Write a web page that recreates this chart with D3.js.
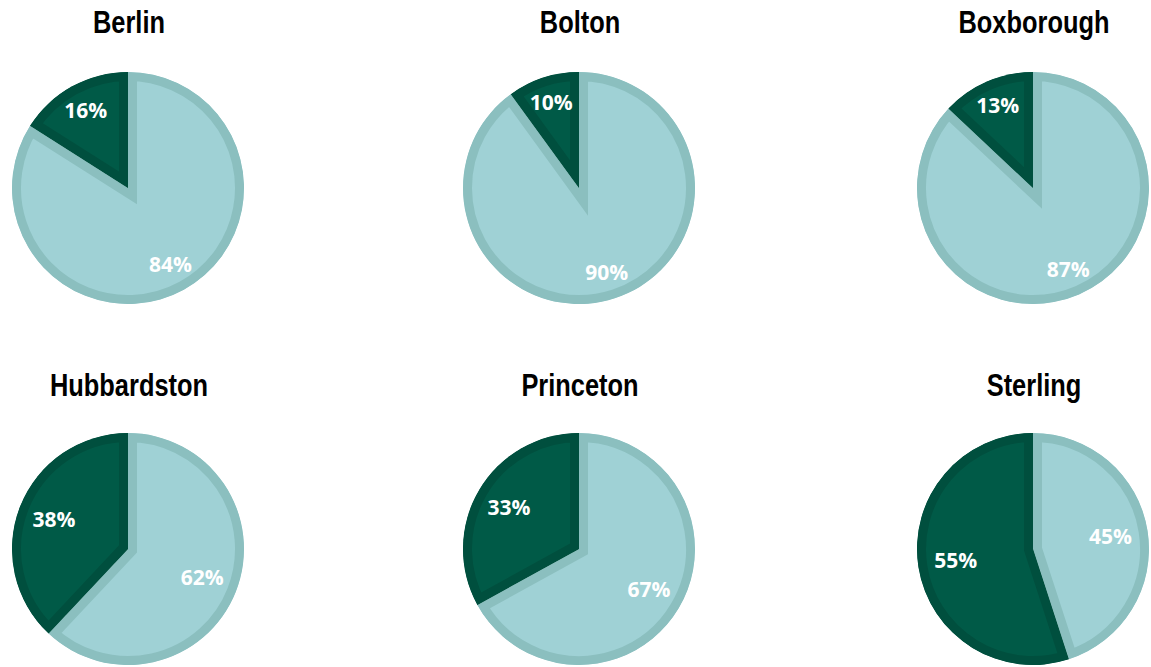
<!DOCTYPE html>
<html>
<head>
<meta charset="utf-8">
<script src="https://cdn.jsdelivr.net/npm/d3@7"></script>
<style>
  html, body { margin: 0; padding: 0; background: #ffffff; }
  svg { display: block; }
</style>
</head>
<body>
<svg id="chart" width="1151" height="667"></svg>
<script>
// ---- data ----
const towns = ["Berlin", "Bolton", "Boxborough", "Hubbardston", "Princeton", "Sterling"];
const lightShare = [84, 90, 87, 62, 67, 45];
const darkShare  = [16, 10, 13, 38, 33, 55];
const seriesNames = ["light", "dark"];

// ---- layout ----
const colX = [128, 579, 1033];
const rowY = [188, 549];
const titleY = [33, 396];
const radius = 116;
const border = 9;

const fillColor = d3.scaleOrdinal().domain(seriesNames).range(["#9fd1d5", "#005a47"]);
const strokeColor = d3.scaleOrdinal().domain(seriesNames).range(["#8bbfbf", "#004f3e"]);

const svg = d3.select("#chart");

const pie = d3.pie().sort(null).value(d => d.value).startAngle(0).endAngle(2 * Math.PI);
const arc = d3.arc().innerRadius(0).outerRadius(radius);

towns.forEach((town, i) => {
  const cx = colX[i % 3];
  const cy = rowY[Math.floor(i / 3)];
  const ty = titleY[Math.floor(i / 3)];

  // title
  svg.append("text")
    .attr("transform", `translate(${cx + 1},${ty}) scale(0.82,1)`)
    .attr("text-anchor", "middle")
    .style("font-family", "'Liberation Sans', Arial, sans-serif")
    .style("font-weight", "bold")
    .style("font-size", "31px")
    .style("fill", "#000")
    .text(town);

  const slices = pie([
    { key: "light", value: lightShare[i] },
    { key: "dark", value: darkShare[i] }
  ]);

  const g = svg.append("g").attr("transform", `translate(${cx},${cy})`);

  slices.forEach((s, j) => {
    const id = `clip-${i}-${j}`;
    const d = arc(s);
    g.append("clipPath").attr("id", id).append("path").attr("d", d);
    g.append("path")
      .attr("d", d)
      .attr("fill", fillColor(s.data.key))
      .attr("stroke", strokeColor(s.data.key))
      .attr("stroke-width", border * 2)
      .attr("stroke-linejoin", "miter")
      .attr("clip-path", `url(#${id})`);
  });

  // labels
  slices.forEach(s => {
    const mid = (s.startAngle + s.endAngle) / 2;
    const c = Math.cos(mid);
    const dist = (78 + 13 * c * c) * radius / 116;
    const lx = Math.sin(mid) * dist;
    const ly = -Math.cos(mid) * dist;
    g.append("text")
      .attr("x", lx)
      .attr("y", ly + 7)
      .attr("text-anchor", "middle")
      .style("font-family", "'Open Sans', 'Noto Sans', sans-serif")
      .style("font-weight", "bold")
      .style("font-size", "21px")
      .style("fill", "#ffffff")
      .text(s.data.value + "%");
  });
});
</script>
</body>
</html>
